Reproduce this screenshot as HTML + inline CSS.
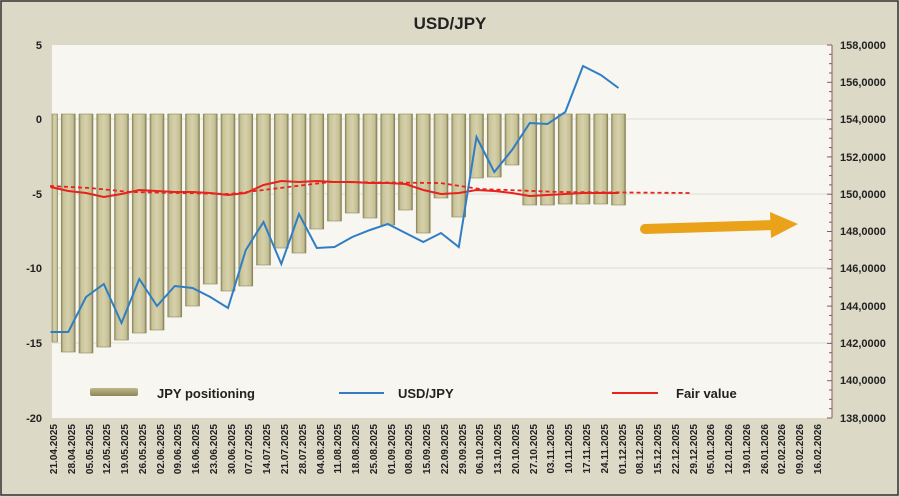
<!DOCTYPE html>
<html><head><meta charset="utf-8"><style>
html,body{margin:0;padding:0;background:#dcd9c6;}
svg{display:block;font-family:"Liberation Sans",sans-serif;}
</style></head><body>
<svg width="900" height="497" viewBox="0 0 900 497" xmlns="http://www.w3.org/2000/svg">
<defs>
<linearGradient id="bg" x1="0" y1="0" x2="1" y2="0">
<stop offset="0" stop-color="#8f8a5e"/><stop offset="0.15" stop-color="#c9c39a"/><stop offset="0.5" stop-color="#d6d1aa"/><stop offset="0.85" stop-color="#c4be93"/><stop offset="1" stop-color="#7d784f"/>
</linearGradient>
<linearGradient id="lg" x1="0" y1="0" x2="0" y2="1"><stop offset="0" stop-color="#bdb78a"/><stop offset="1" stop-color="#8c8659"/></linearGradient>
</defs>
<rect x="0" y="0" width="900" height="497" fill="#dcd9c6"/>
<rect x="1" y="1" width="897" height="494" fill="none" stroke="#333" stroke-width="1.5"/>
<text x="450" y="29" text-anchor="middle" font-size="17" font-weight="bold" fill="#222">USD/JPY</text>
<rect x="52" y="45" width="780" height="373" fill="#f7f6f1"/>
<g stroke="#dedcd3" stroke-width="1">
<line x1="52" y1="119" x2="832" y2="119"/><line x1="52" y1="194" x2="832" y2="194"/><line x1="52" y1="268" x2="832" y2="268"/><line x1="52" y1="343" x2="832" y2="343"/>
</g>
<g id="bars"></g>
<g font-size="11" font-weight="bold" fill="#222" text-anchor="end">
<text x="42" y="49">5</text><text x="42" y="123">0</text><text x="42" y="198">-5</text><text x="42" y="272">-10</text><text x="42" y="347">-15</text><text x="42" y="422">-20</text>
</g>
<line x1="832" y1="45" x2="832" y2="418" stroke="#8a5a5a" stroke-width="1"/>
<g id="ticks" stroke="#8a5a5a" stroke-width="1"></g>
<g font-size="11" font-weight="bold" fill="#222">
<text x="840" y="49">158,0000</text><text x="840" y="86">156,0000</text><text x="840" y="123">154,0000</text><text x="840" y="161">152,0000</text><text x="840" y="198">150,0000</text><text x="840" y="235">148,0000</text><text x="840" y="272">146,0000</text><text x="840" y="310">144,0000</text><text x="840" y="347">142,0000</text><text x="840" y="384">140,0000</text><text x="840" y="422">138,0000</text>
</g>
<polyline fill="none" stroke="#e8221c" stroke-width="1.8" stroke-dasharray="4,3" points="50,186 90,188 130,192 230,194 330,182 440,183 480,189 560,192 690,193"/>
<polyline id="fv" fill="none" stroke="#e8221c" stroke-width="2"/>
<polyline id="usd" fill="none" stroke="#2f7ec4" stroke-width="2"/>
<g>
<line x1="645" y1="229" x2="775" y2="225" stroke="#e9a21a" stroke-width="10" stroke-linecap="round"/>
<polygon points="770,212 798,224 771,238" fill="#e9a21a"/>
</g>
<rect x="90" y="388" width="48" height="8" rx="2" fill="url(#lg)"/>
<text x="157" y="398" font-size="13" font-weight="bold" fill="#222">JPY positioning</text>
<line x1="339" y1="393" x2="384" y2="393" stroke="#2f7ec4" stroke-width="2"/>
<text x="398" y="398" font-size="13" font-weight="bold" fill="#222">USD/JPY</text>
<line x1="612" y1="393" x2="658" y2="393" stroke="#e8221c" stroke-width="2"/>
<text x="676" y="398" font-size="13" font-weight="bold" fill="#222">Fair value</text>
<g font-size="10" font-weight="bold" fill="#222" text-anchor="end">
<text transform="translate(57,424) rotate(-90)">21.04.2025</text>
<text transform="translate(75,424) rotate(-90)">28.04.2025</text>
<text transform="translate(93,424) rotate(-90)">05.05.2025</text>
<text transform="translate(110,424) rotate(-90)">12.05.2025</text>
<text transform="translate(128,424) rotate(-90)">19.05.2025</text>
<text transform="translate(146,424) rotate(-90)">26.05.2025</text>
<text transform="translate(164,424) rotate(-90)">02.06.2025</text>
<text transform="translate(181,424) rotate(-90)">09.06.2025</text>
<text transform="translate(199,424) rotate(-90)">16.06.2025</text>
<text transform="translate(217,424) rotate(-90)">23.06.2025</text>
<text transform="translate(235,424) rotate(-90)">30.06.2025</text>
<text transform="translate(252,424) rotate(-90)">07.07.2025</text>
<text transform="translate(270,424) rotate(-90)">14.07.2025</text>
<text transform="translate(288,424) rotate(-90)">21.07.2025</text>
<text transform="translate(306,424) rotate(-90)">28.07.2025</text>
<text transform="translate(324,424) rotate(-90)">04.08.2025</text>
<text transform="translate(341,424) rotate(-90)">11.08.2025</text>
<text transform="translate(359,424) rotate(-90)">18.08.2025</text>
<text transform="translate(377,424) rotate(-90)">25.08.2025</text>
<text transform="translate(395,424) rotate(-90)">01.09.2025</text>
<text transform="translate(412,424) rotate(-90)">08.09.2025</text>
<text transform="translate(430,424) rotate(-90)">15.09.2025</text>
<text transform="translate(448,424) rotate(-90)">22.09.2025</text>
<text transform="translate(466,424) rotate(-90)">29.09.2025</text>
<text transform="translate(483,424) rotate(-90)">06.10.2025</text>
<text transform="translate(501,424) rotate(-90)">13.10.2025</text>
<text transform="translate(519,424) rotate(-90)">20.10.2025</text>
<text transform="translate(537,424) rotate(-90)">27.10.2025</text>
<text transform="translate(554,424) rotate(-90)">03.11.2025</text>
<text transform="translate(572,424) rotate(-90)">10.11.2025</text>
<text transform="translate(590,424) rotate(-90)">17.11.2025</text>
<text transform="translate(608,424) rotate(-90)">24.11.2025</text>
<text transform="translate(626,424) rotate(-90)">01.12.2025</text>
<text transform="translate(643,424) rotate(-90)">08.12.2025</text>
<text transform="translate(661,424) rotate(-90)">15.12.2025</text>
<text transform="translate(679,424) rotate(-90)">22.12.2025</text>
<text transform="translate(697,424) rotate(-90)">29.12.2025</text>
<text transform="translate(714,424) rotate(-90)">05.01.2026</text>
<text transform="translate(732,424) rotate(-90)">12.01.2026</text>
<text transform="translate(750,424) rotate(-90)">19.01.2026</text>
<text transform="translate(768,424) rotate(-90)">26.01.2026</text>
<text transform="translate(785,424) rotate(-90)">02.02.2026</text>
<text transform="translate(803,424) rotate(-90)">09.02.2026</text>
<text transform="translate(821,424) rotate(-90)">16.02.2026</text>
</g>
</svg>
<script>
(function(){
var ns="http://www.w3.org/2000/svg";
var bottoms=[342,352,353,347,340,333,330,317,306,284,291,286,265,248,253,229,221,213,218,225,210,233,198,217,178,177,165,205,205,204,204,204,205];
var g=document.getElementById('bars');
for(var i=0;i<bottoms.length;i++){
 var cx=50.5+17.75*i, x=cx-7, w=14;
 if(x<52){w-= (52-x); x=52;}
 var r=document.createElementNS(ns,'rect');
 r.setAttribute('x',x);r.setAttribute('y',114);r.setAttribute('width',w);r.setAttribute('height',bottoms[i]-114);
 r.setAttribute('fill','url(#bg)');r.setAttribute('stroke','#8d875c');r.setAttribute('stroke-width','0.6');
 g.appendChild(r);
}
var t=document.getElementById('ticks');
for(var y=45;y<=418.5;y+=373/40){
 var l=document.createElementNS(ns,'line');
 var big=Math.abs(((y-45)/(373/10))-Math.round((y-45)/(373/10)))<0.01;
 l.setAttribute('x1',big?827:829);l.setAttribute('x2',832);l.setAttribute('y1',y);l.setAttribute('y2',y);t.appendChild(l);
}
var u=[332,332,297,284,323,279,306,286,288,297,308,250,222,264,214,248,247,237,230,224,233,242,233,247,137,172,150,123,124,112,66,75,88];
var f=[187,191,193,197,194,190,191,192,192,193,195,193,185,181,182,181,182,182,183,183,184,190,194,193,190,191,193,196,195,194,193,193,193];
function pts(a){return a.map(function(v,i){return (50.5+17.75*i).toFixed(1)+','+v}).join(' ');}
document.getElementById('usd').setAttribute('points',pts(u));
document.getElementById('fv').setAttribute('points',pts(f));
})();
</script>
</body></html>
